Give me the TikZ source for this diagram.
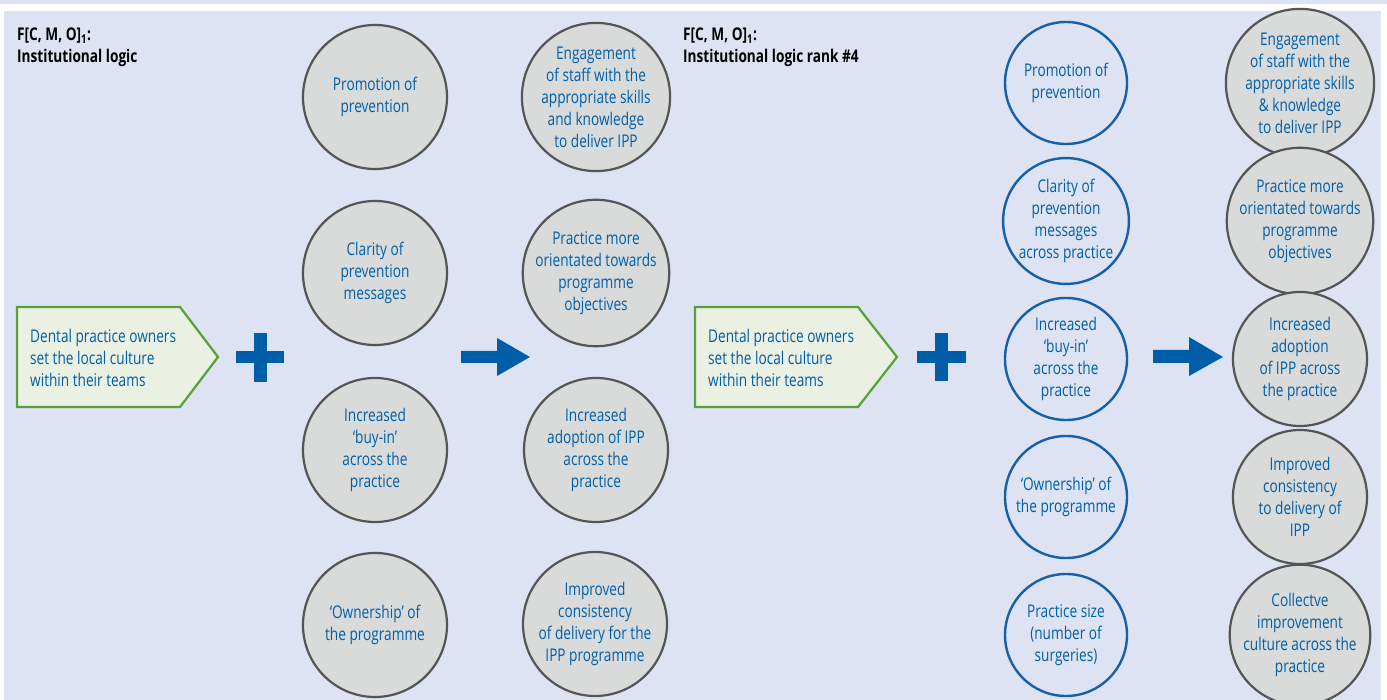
\documentclass[tikz,border=0pt]{standalone}
\usepackage{fontspec}
\setmainfont{Open Sans}[FakeStretch=0.78]
\definecolor{panel}{HTML}{DDE3F3}
\definecolor{gfill}{HTML}{D9DADA}
\definecolor{gline}{HTML}{555555}
\definecolor{tblue}{HTML}{005EA8}
\definecolor{bline}{HTML}{1760A8}
\definecolor{pfill}{HTML}{EAF0E2}
\definecolor{pline}{HTML}{58A03C}
\newcommand{\bodyfont}{\fontsize{17.5}{22}\selectfont}
\begin{document}
\begin{tikzpicture}[x=1pt,y=-1pt,
  gcirc/.style={circle, draw=gline, fill=gfill, line width=2.2pt, minimum size=144pt, inner sep=0pt, align=center, text=tblue, font=\bodyfont},
  gcircs/.style={gcirc, minimum size=134pt},
  bcirc/.style={circle, draw=bline, line width=2.4pt, minimum size=122pt, inner sep=0pt, align=center, text=tblue, font=\bodyfont},
  pent/.style={draw=pline, fill=pfill, line width=2.2pt, line join=miter},
  ptext/.style={anchor=west, align=left, text=tblue, font=\bodyfont, inner sep=0pt},
  head/.style={anchor=north west, align=left, font=\bodyfont\bfseries, inner sep=0pt},
  sym/.style={fill=tblue}]
\useasboundingbox (0,0) rectangle (1387,700);
\fill[white] (0,0) rectangle (1387,700);
\fill[panel] (0,0) rectangle (1387,4);
\fill[panel] (4,11) rectangle (1381,700);

% ---------- left panel ----------
\node[head] (h1) at (17,28) {F[C, M, O]\textsubscript{1}:\\Institutional logic};
\draw[pent] (17,307) -- (180,307) -- (218,357) -- (180,407) -- (17,407) -- cycle;
\node[ptext] (d1) at (30,358) {Dental practice owners\\set the local culture\\within their teams};
\fill[sym] (236,351) rectangle (284,363);
\fill[sym] (254,333) rectangle (267,382);

\node[gcirc] (a1) at (375,97) {Promotion of\\prevention};
\node[gcirc] (a2) at (375,273) {Clarity of\\prevention\\messages};
\node[gcirc] (a3) at (375,450) {Increased\\‘buy-in’\\across the\\practice};
\node[gcirc] (a4) at (375,625) {‘Ownership’ of\\the programme};

\fill[sym] (461,351) -- (497,351) -- (497,338) -- (530,357) -- (497,376) -- (497,363) -- (461,363) -- cycle;

\node[gcirc] (b1) at (596,97) {Engagement\\of staff with the\\appropriate skills\\and knowledge\\to deliver IPP};
\node[gcirc] (b2) at (596,273) {Practice more\\orientated towards\\programme\\objectives};
\node[gcirc] (b3) at (596,450) {Increased\\adoption of IPP\\across the\\practice};
\node[gcirc] (b4) at (595,624) {Improved\\consistency\\of delivery for the\\IPP programme};

% ---------- right panel ----------
\node[head] (h2) at (683,28) {F[C, M, O]\textsubscript{1}:\\Institutional logic rank \#4};
\draw[pent] (695,307) -- (858,307) -- (897,357) -- (858,407) -- (695,407) -- cycle;
\node[ptext] (d2) at (708,358) {Dental practice owners\\set the local culture\\within their teams};
\fill[sym] (917,351) rectangle (966,363);
\fill[sym] (935,333) rectangle (948,381);

\node[bcirc] (c1) at (1066,83) {Promotion of\\prevention};
\node[bcirc] (c2) at (1066,221) {Clarity of\\prevention\\messages\\across practice};
\node[bcirc] (c3) at (1066,359) {Increased\\‘buy-in’\\across the\\practice};
\node[bcirc] (c4) at (1066,497) {‘Ownership’ of\\the programme};
\node[bcirc] (c5) at (1066,635) {Practice size\\(number of\\surgeries)};

\fill[sym] (1153,350) -- (1189,350) -- (1189,337) -- (1223,357) -- (1189,376) -- (1189,363) -- (1153,363) -- cycle;

\node[gcircs] (e1) at (1300,83) {Engagement\\of staff with the\\appropriate skills\\\& knowledge\\to deliver IPP};
\node[gcircs] (e2) at (1300,221) {Practice more\\orientated towards\\programme\\objectives};
\node[gcircs] (e3) at (1300,359) {Increased\\adoption\\of IPP across\\the practice};
\node[gcircs] (e4) at (1300,497) {Improved\\consistency\\to delivery of\\IPP};
\node[gcircs] (e5) at (1300,635) {Collectve\\improvement\\culture across the\\practice};
\end{tikzpicture}
\end{document}
